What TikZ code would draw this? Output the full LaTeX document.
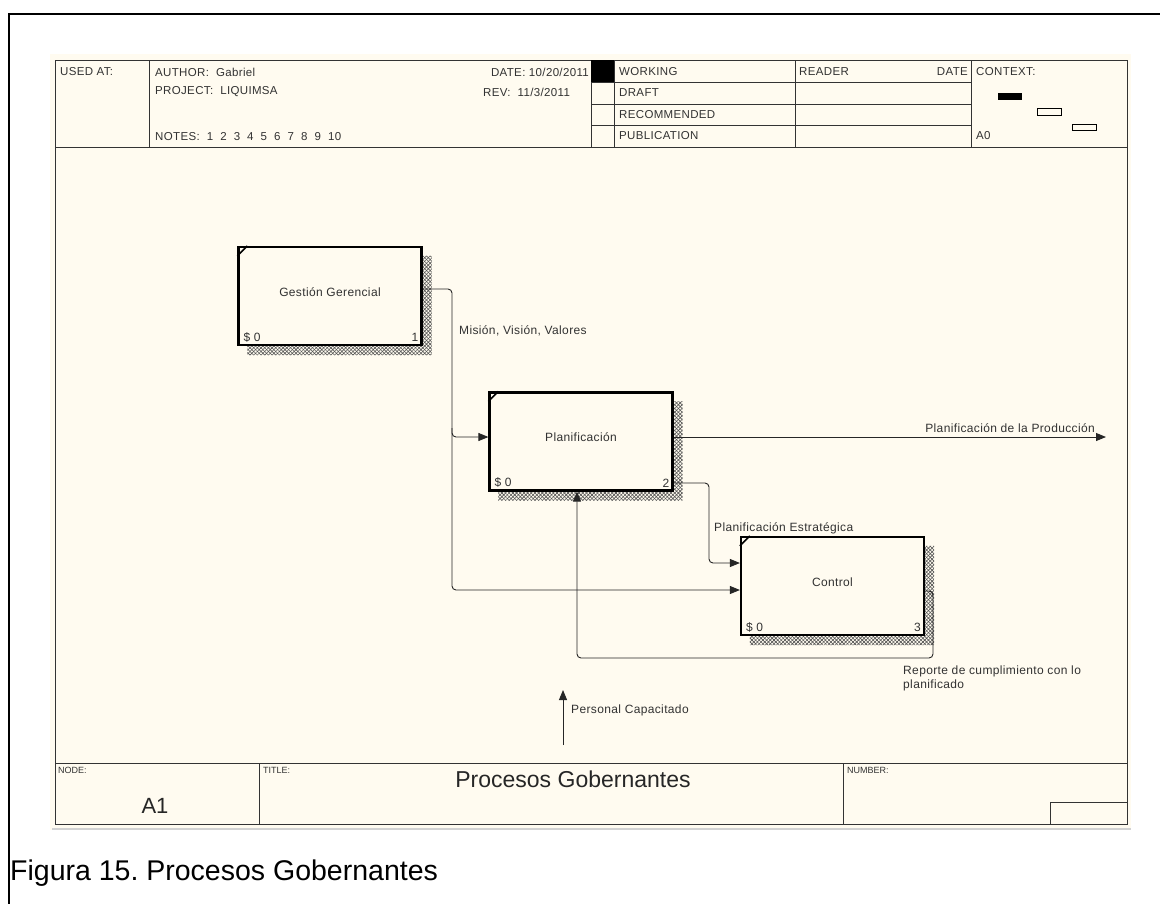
\documentclass[tikz,border=0pt]{standalone}
\usepackage{fontspec}
\setmainfont{Liberation Sans}
\newfontfamily\lab[LetterSpace=3]{Liberation Sans}
\usetikzlibrary{arrows.meta,patterns.meta,calc}
\frenchspacing

\definecolor{paper}{RGB}{255,251,240}
\definecolor{ink}{RGB}{50,50,50}

% hatched IDEF0 drop shadow on the right and bottom of a box
\newcommand\idefshadow[1]{%
  \foreach \ang in {45,-45}{%
    \fill[pattern={Lines[angle=\ang,distance=2.6pt,line width=.6pt]},pattern color=black!68]
      ($(#1.north east)+(0,10)$) rectangle ($(#1.south east)+(9,9)$)
      ($(#1.south west)+(10,0)$) rectangle ($(#1.south east)+(9,9)$);
  }%
}
% small diagonal mark in the upper left corner of a box
\newcommand\idefcorner[1]{%
  \draw[line width=1.6pt] ($(#1.north west)+(0,10)$) -- ($(#1.north west)+(10,0)$);%
}

\begin{document}
\begin{tikzpicture}[x=1pt,y=-1pt,
  rule/.style={draw=black!80, line width=1pt},
  hdr/.style={font=\lab\fontsize{11.5}{13}\selectfont, text=ink, anchor=west, inner sep=0pt},
  tiny/.style={font=\fontsize{9}{10}\selectfont, text=ink, anchor=west, inner sep=0pt},
  lbl/.style={font=\lab\fontsize{12}{14}\selectfont, text=ink, inner sep=0pt},
  procbox/.style={draw=black, line width=2.2pt, fill=paper, minimum width=183pt,
    minimum height=98pt, inner sep=0pt, font=\lab\fontsize{12}{14}\selectfont, text=ink},
  flow/.style={draw=black!85, line width=0.9pt, rounded corners=4pt},
  arr/.style={-{Triangle[length=10pt,width=8pt]}}
]
\useasboundingbox (0,0) rectangle (1160,903);
\fill[white] (0,0) rectangle (1160,903);

% page frame, open to the right and below
\draw[line width=2pt] (9,906) -- (9,14) -- (1163,14);

% diagram sheet
\fill[paper] (50,54) rectangle (1131,830);
\draw[gray!35, line width=2pt] (52,829) -- (1131,829);
\draw[rule] (55,60) rectangle (1127,824);

% ---------- header ----------
\draw[rule] (55,147) -- (1127,147);
\foreach \xx in {149,591,614,795,971} \draw[rule] (\xx,60) -- (\xx,147);
\foreach \yy in {82,104,125} \draw[rule] (591,\yy) -- (971,\yy);
\fill[black] (591,60) rectangle (614,82);

\node[hdr] (usedat) at (60,72) {USED AT:};
\node[hdr] (author) at (155,72) {AUTHOR:\ \ Gabriel};
\node[hdr] (project) at (155,92) {PROJECT:\ \ LIQUIMSA};
\node[hdr] (notes) at (155,137) {NOTES:\ \ 1\ \ 2\ \ 3\ \ 4\ \ 5\ \ 6\ \ 7\ \ 8\ \ 9\ \ 10};
\node[hdr, anchor=east] (date) at (589,72) {DATE: 10/20/2011};
\node[hdr] (rev) at (483,92) {REV:\ \ 11/3/2011};
\node[hdr] (working) at (619,72) {WORKING};
\node[hdr] (draft) at (619,93) {DRAFT};
\node[hdr] (recom) at (619,115) {RECOMMENDED};
\node[hdr] (public) at (619,136) {PUBLICATION};
\node[hdr] (reader) at (799,72) {READER};
\node[hdr, anchor=east] (rdate) at (968,72) {DATE};
\node[hdr] (context) at (976,72) {CONTEXT:};
\node[hdr] (a0) at (976,136) {A0};
\fill[black] (998,93) rectangle (1022,100);
\draw[line width=1pt] (1037,108) rectangle (1061,115);
\draw[line width=1pt] (1072,124) rectangle (1096,130);

% ---------- footer ----------
\draw[rule] (55,763) -- (1127,763);
\draw[rule] (259,763) -- (259,824);
\draw[rule] (843,763) -- (843,824);
\draw[rule] (1050,824) |- (1127,802);
\node[tiny] (nodelbl) at (58,770) {NODE:};
\node[tiny] (titlelbl) at (263,770) {TITLE:};
\node[tiny] (numlbl) at (847,770) {NUMBER:};
\node[font=\fontsize{23}{25}\selectfont, text=black!85, inner sep=0pt] (title) at (573,779) {Procesos Gobernantes};
\node[font=\fontsize{22}{24}\selectfont, text=black!85, inner sep=0pt] (nodeid) at (155,806) {A1};

% ---------- activities ----------
\coordinate (g1c) at (330,296);
\coordinate (p2c) at (581,441.5);
\coordinate (c3c) at (832.5,586);
\node[procbox, draw=none, fill=none] (g1s) at (g1c) {};
\node[procbox, draw=none, fill=none] (p2s) at (p2c) {};
\node[procbox, draw=none, fill=none] (c3s) at (c3c) {};
\idefshadow{g1s}
\idefshadow{p2s}
\idefshadow{c3s}

\node[procbox] (g1) at (g1c) {\raisebox{7pt}{Gestión Gerencial}};
\node[procbox] (p2) at (p2c) {\raisebox{8pt}{Planificación}};
\node[procbox] (c3) at (c3c) {\raisebox{7pt}{Control}};
\idefcorner{g1}
\idefcorner{p2}
\idefcorner{c3}

\foreach \b/\n in {g1/1,p2/2,c3/3}{
  \node[lbl, anchor=south west] at ([shift={(6pt,4pt)}]\b.south west) {\$ 0};
  \node[lbl, anchor=south east] at ([shift={(-4pt,4pt)}]\b.south east) {\n};
}

% ---------- arrows ----------
\coordinate (g1out) at ([yshift=7pt]g1.east);
\coordinate (m1) at (452,0);
\coordinate (c3in1) at ([yshift=-4pt]c3.west);
\coordinate (p2in) at ([yshift=4.5pt]p2.west);
\draw[flow,arr] (g1out) -- (g1out -| m1) -- (m1 |- c3in1) -- (c3in1);
\draw[flow,arr] ($(m1 |- p2in)+(0,-9)$) -- (m1 |- p2in) -- (p2in);
\node[lbl, anchor=west] (mision) at (459,331) {Misión, Visión, Valores};

\coordinate (p2out) at ([yshift=4.5pt]p2.east);
\coordinate (prodend) at (1106,0);
\draw[flow,arr] (p2out) -- (p2out -| prodend);
\node[lbl, anchor=east] (prod) at (1095,428) {Planificación de la Producción};

\coordinate (p2out2) at ([yshift=-41.5pt]p2.east);
\coordinate (k2) at (709,0);
\coordinate (c3in2) at ([yshift=23pt]c3.west);
\draw[flow,arr] (p2out2) -- (p2out2 -| k2) -- (k2 |- c3in2) -- (c3in2);
\node[lbl, anchor=west] (estr) at (714,528) {Planificación Estratégica};

\coordinate (c3out) at ([yshift=-5pt]c3.east);
\coordinate (fb) at (933,658);
\coordinate (p2bot) at ([xshift=-4pt]p2.south);
\draw[flow,arr] (c3out) -- (c3out -| fb) -- (fb) -- (fb -| p2bot) -- (p2bot);
\node[lbl, anchor=north west, align=left] (reporte) at (903,666) {Reporte de cumplimiento con lo\\planificado};

\coordinate (pc0) at (563,745);
\coordinate (pc1) at (563,690);
\draw[flow,arr] (pc0) -- (pc1);
\node[lbl, anchor=west] (personal) at (571,710) {Personal Capacitado};

% ---------- caption ----------
\node[font=\fontsize{28.5}{30}\selectfont, anchor=base west, inner sep=0pt] (caption) at (10,880) {Figura 15. Procesos Gobernantes};
\end{tikzpicture}
\end{document}
